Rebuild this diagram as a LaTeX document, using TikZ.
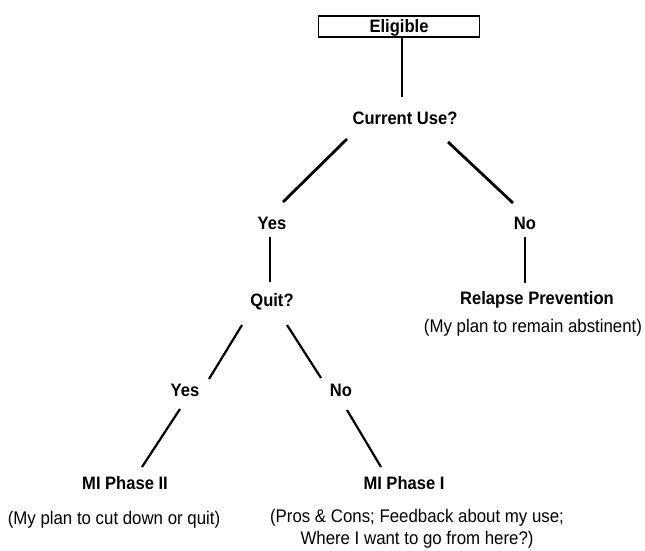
\documentclass[tikz,border=0pt]{standalone}
\usepackage{fontspec}
\setmainfont{Liberation Sans}[FakeStretch=0.92]
\usepackage{tikz}
\usetikzlibrary{calc}
\tikzstyle{decision} = [rectangle, draw=black, line width=1.8pt, minimum width=161pt, minimum height=21pt, inner sep=0pt, text height=13pt, text depth=0pt, font=\bfseries\fontsize{18}{22}\selectfont]
\tikzstyle{answer} = [inner sep=0pt, text height=13pt, text depth=0pt, font=\bfseries\fontsize{18}{22}\selectfont]
\tikzstyle{note} = [inner sep=0pt, align=center, font=\fontsize{18.3}{22}\selectfont]
\tikzstyle{trunk} = [line width=2.8pt]
\tikzstyle{branch} = [line width=2.2pt]
\tikzstyle{stem} = [line width=1.7pt]

\begin{document}
\begin{tikzpicture}[x=1pt, y=1pt, node distance=90pt]
    \useasboundingbox (0,0) rectangle (645,550);
    \node (elig) [decision] at (399,523.5) {Eligible};
    \node (cu) [answer, below of=elig, xshift=6pt, yshift=-1.5pt] {Current Use?};
    \node (yes1) [answer, below of=cu, xshift=-133pt, yshift=-15pt] {Yes};
    \node (no1) [answer, below of=cu, xshift=120pt, yshift=-15pt] {No};
    \node (quit) [answer, below of=yes1, yshift=13pt] {Quit?};
    \node (rp) [answer, below of=no1, xshift=12pt, yshift=15pt] {Relapse Prevention};
    \node (rpnote) [note, below of=rp, xshift=-4pt, yshift=60pt] {(My plan to remain abstinent)};
    \node (yes2) [answer, below of=quit, xshift=-87pt] {Yes};
    \node (no2) [answer, below of=quit, xshift=69pt] {No};
    \node (mi2) [answer, below of=yes2, xshift=-60pt, yshift=-3pt] {MI Phase II};
    \node (mi1) [answer, below of=no2, xshift=63pt, yshift=-3pt] {MI Phase I};
    \node (mi2note) [note, below of=mi2, xshift=-11pt, yshift=53pt] {(My plan to cut down or quit)};
    \node (mi1note) [note, below of=mi1, xshift=13pt, yshift=44pt] {(Pros \& Cons; Feedback about my use;\\ Where I want to go from here?)};
    \draw [trunk] ($(elig.south)+(3,0)$) -- ($(cu)+(-3,21)$);
    \draw [trunk] ($(cu)+(-58,-21)$) -- ($(yes1)+(11,21)$);
    \draw [trunk] ($(cu)+(43,-24)$) -- ($(no1)+(-12,20)$);
    \draw [stem] ($(yes1)+(-2,-14)$) -- ($(quit)+(-2,18)$);
    \draw [stem] ($(no1)+(0,-14)$) -- ($(rp)+(-12,15)$);
    \draw [branch] ($(quit)+(-30,-25)$) -- ($(yes2)+(24,11)$);
    \draw [branch] ($(quit)+(15,-25)$) -- ($(no2)+(-20,12)$);
    \draw [branch] ($(yes2)+(-5,-19)$) -- ($(mi2)+(17,16)$);
    \draw [branch] ($(no2)+(6,-20)$) -- ($(mi1)+(-23,16)$);
\end{tikzpicture}
\end{document}
